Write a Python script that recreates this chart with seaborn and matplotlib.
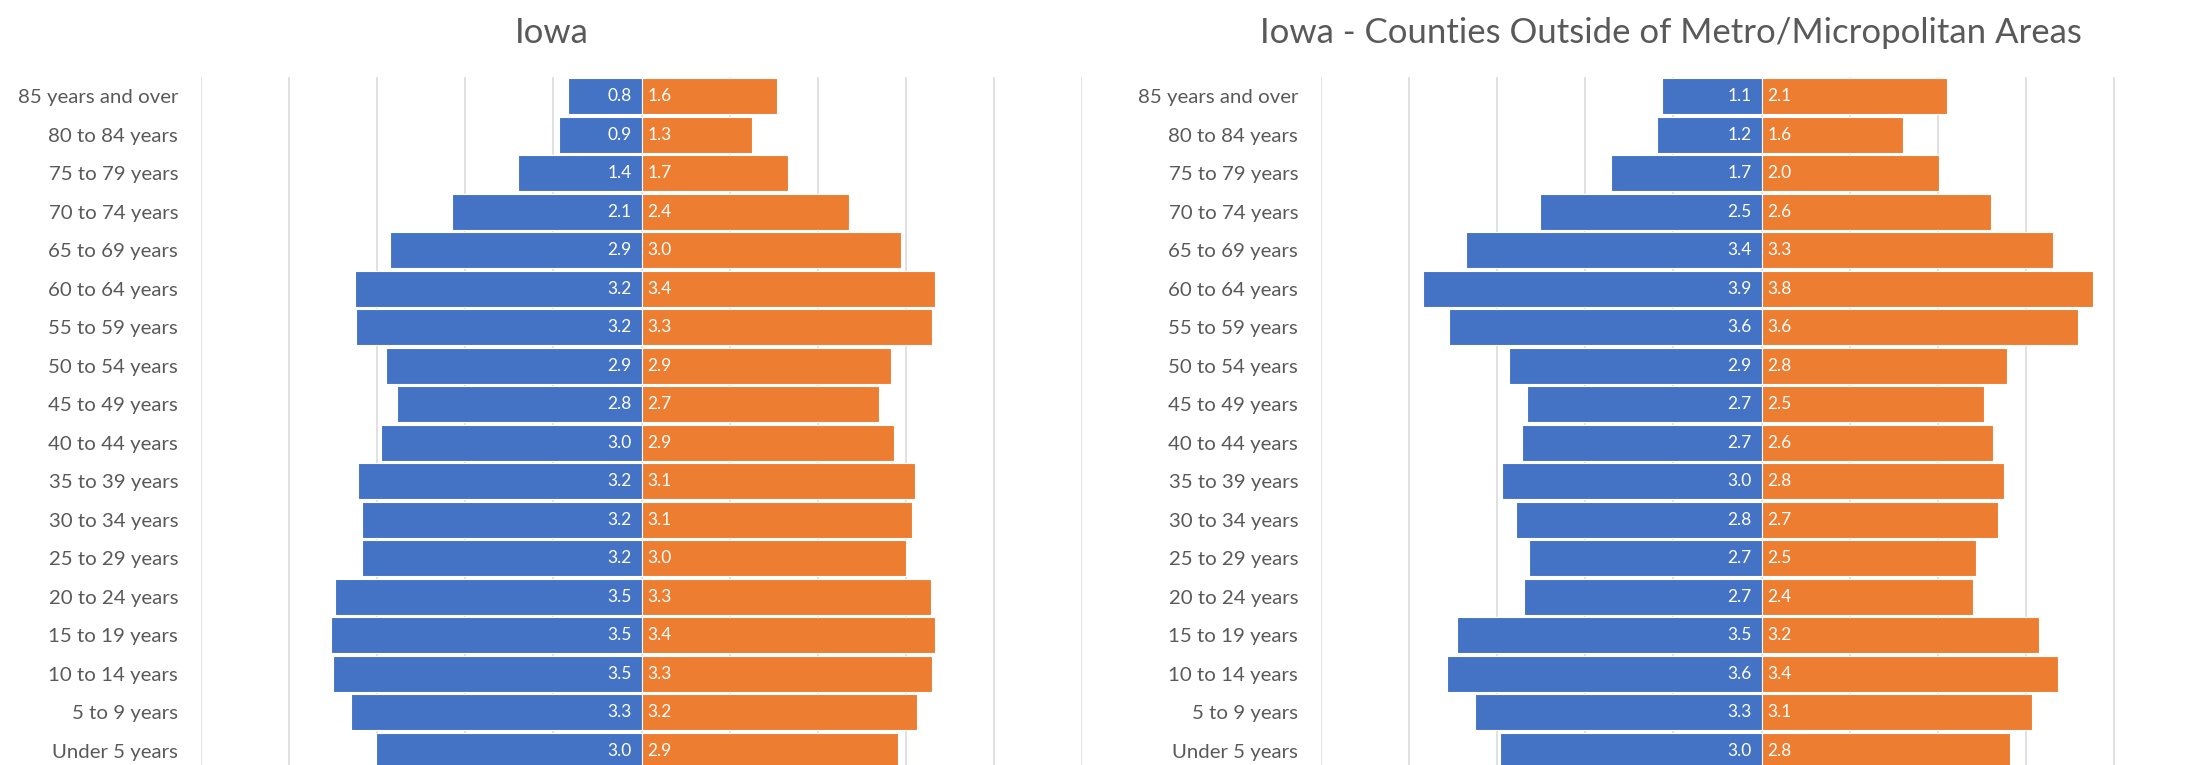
import pandas as pd
import matplotlib
matplotlib.use("Agg")
import matplotlib.pyplot as plt
import seaborn as sns

# Age groups, top of the pyramid first
age_groups = [
    "85 years and over", "80 to 84 years", "75 to 79 years", "70 to 74 years",
    "65 to 69 years", "60 to 64 years", "55 to 59 years", "50 to 54 years",
    "45 to 49 years", "40 to 44 years", "35 to 39 years", "30 to 34 years",
    "25 to 29 years", "20 to 24 years", "15 to 19 years", "10 to 14 years",
    "5 to 9 years", "Under 5 years",
]

# Iowa (bar lengths, % of population)
iowa_male = [0.84, 0.94, 1.40, 2.15, 2.86, 3.25, 3.24, 2.90, 2.78, 2.96,
             3.22, 3.17, 3.17, 3.48, 3.53, 3.50, 3.30, 3.02]
iowa_female = [1.54, 1.25, 1.66, 2.35, 2.95, 3.33, 3.30, 2.83, 2.70, 2.86,
               3.10, 3.07, 3.00, 3.28, 3.33, 3.30, 3.13, 2.91]
iowa_male_labels = ["0.8", "0.9", "1.4", "2.1", "2.9", "3.2", "3.2", "2.9", "2.8",
                    "3.0", "3.2", "3.2", "3.2", "3.5", "3.5", "3.5", "3.3", "3.0"]
iowa_female_labels = ["1.6", "1.3", "1.7", "2.4", "3.0", "3.4", "3.3", "2.9", "2.7",
                      "2.9", "3.1", "3.1", "3.0", "3.3", "3.4", "3.3", "3.2", "2.9"]

# Counties outside of metro/micropolitan areas
rural_male = [1.13, 1.19, 1.71, 2.52, 3.36, 3.84, 3.55, 2.87, 2.66, 2.72,
              2.95, 2.79, 2.64, 2.70, 3.46, 3.57, 3.25, 2.97]
rural_female = [2.10, 1.61, 2.01, 2.61, 3.31, 3.76, 3.59, 2.79, 2.52, 2.63,
                2.75, 2.68, 2.44, 2.40, 3.15, 3.37, 3.07, 2.82]
rural_male_labels = ["1.1", "1.2", "1.7", "2.5", "3.4", "3.9", "3.6", "2.9", "2.7",
                     "2.7", "3.0", "2.8", "2.7", "2.7", "3.5", "3.6", "3.3", "3.0"]
rural_female_labels = ["2.1", "1.6", "2.0", "2.6", "3.3", "3.8", "3.6", "2.8", "2.5",
                       "2.6", "2.8", "2.7", "2.5", "2.4", "3.2", "3.4", "3.1", "2.8"]

sns.set_theme(style="white")
plt.rcParams['font.family'] = ['Lato', 'DejaVu Sans']

BLUE = "#4472C4"
ORANGE = "#ED7D31"
TEXT = "#595959"
GRID = "#D9D9D9"


def draw_pyramid(ax, male, female, male_labels, female_labels):
    n = len(age_groups)
    df = pd.DataFrame({
        "age": age_groups * 2,
        "value": [-v for v in male] + list(female),
        "sex": ["Male"] * n + ["Female"] * n,
    })

    for gx in range(-5, 6):
        ax.axvline(gx, color=GRID, lw=1.1, zorder=0)

    sns.barplot(data=df, x="value", y="age", hue="sex", order=age_groups,
                hue_order=["Male", "Female"], palette=[BLUE, ORANGE],
                saturation=1, dodge=False, orient="h", width=0.93, errorbar=None,
                edgecolor="white", linewidth=0.8, legend=False, ax=ax, zorder=2)

    for i in range(n):
        ax.annotate(male_labels[i], (0, i), xytext=(-10, 0), textcoords="offset pixels",
                    ha="right", va="center", color="white", fontsize=12.5, zorder=3)
        ax.annotate(female_labels[i], (0, i), xytext=(6, 0), textcoords="offset pixels",
                    ha="left", va="center", color="white", fontsize=12.5, zorder=3)

    ax.set_xlim(-5, 5)
    ax.set_xticks([])
    ax.set_xlabel("")
    ax.set_ylabel("")
    sns.despine(ax=ax, left=True, bottom=True)
    ax.tick_params(axis="y", length=0, pad=16.5, labelsize=14.7, labelcolor=TEXT)


fig = plt.figure(figsize=(21.93, 7.65), dpi=100)
ax1 = fig.add_axes([0.0917, -0.0065, 0.4017, 0.9059])
ax2 = fig.add_axes([0.6024, -0.0065, 0.4017, 0.9059])

draw_pyramid(ax1, iowa_male, iowa_female, iowa_male_labels, iowa_female_labels)
draw_pyramid(ax2, rural_male, rural_female, rural_male_labels, rural_female_labels)

fig.text(0.2517, 0.944, "Iowa", ha="center", va="baseline", fontsize=25, color=TEXT)
fig.text(0.762, 0.944, "Iowa - Counties Outside of Metro/Micropolitan Areas",
         ha="center", va="baseline", fontsize=25, color=TEXT)

fig.savefig("out.png", dpi=100)
